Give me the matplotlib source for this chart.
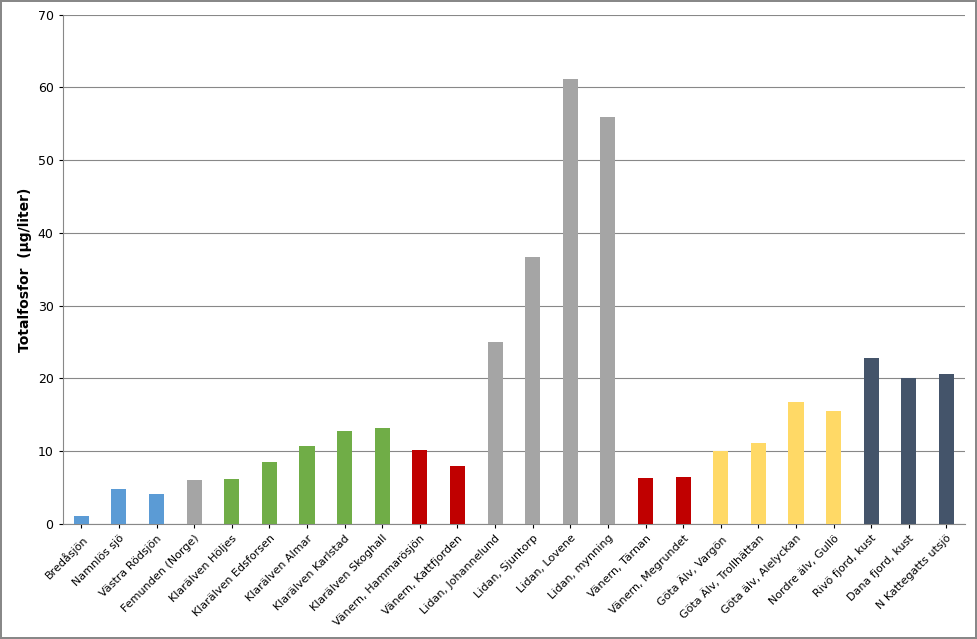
import matplotlib
matplotlib.use("Agg")
import matplotlib.pyplot as plt

labels = ["Bredåsjön", "Namnlös sjö", "Västra Rödsjön", "Femunden (Norge)", "Klarälven Höljes",
          "Klarälven Edsforsen", "Klarälven Almar", "Klarälven Karlstad", "Klarälven Skoghall",
          "Vänern, Hammarösjön", "Vänern, Kattfjorden", "Lidan, Johannelund", "Lidan, Sjuntorp",
          "Lidan, Lovene", "Lidan, mynning", "Vänern, Tärnan", "Vänern, Megrundet",
          "Göta Älv, Vargön", "Göta Älv, Trollhättan", "Göta älv, Alelyckan", "Nordre älv, Gullö",
          "Rivö fjord, kust", "Dana fjord, kust", "N Kattegatts utsjö"]
values = [1.1, 4.8, 4.1, 6.0, 6.2, 8.5, 10.7, 12.8, 13.2, 10.2, 8.0, 25.0, 36.7,
          61.2, 56.0, 6.3, 6.5, 10.0, 11.1, 16.8, 15.5, 22.8, 20.0, 20.6]
groups = ["b", "b", "b", "g", "n", "n", "n", "n", "n", "r", "r", "g", "g", "g", "g",
          "r", "r", "y", "y", "y", "y", "d", "d", "d"]
palette = {"b": "#5B9BD5", "g": "#A5A5A5", "n": "#70AD47", "r": "#C00000",
           "y": "#FFD966", "d": "#44546A"}

fig = plt.figure(figsize=(9.77, 6.39), dpi=100)
fig.patch.set_edgecolor("#888888")
fig.patch.set_linewidth(1.5)
ax = fig.add_axes([0.064, 0.18, 0.924, 0.797])
x = range(len(labels))
ax.bar(x, values, width=0.4, color=[palette[g] for g in groups], zorder=3)
ax.set_xlim(-0.5, len(labels) - 0.5)
ax.set_ylim(0, 70)
ax.set_yticks(range(0, 71, 10))
ax.yaxis.grid(True, color="#888888", linewidth=0.8, zorder=0)
ax.set_xticks(list(x))
ax.set_xticklabels(labels, rotation=45, ha="right", rotation_mode="anchor", fontsize=8)
ax.tick_params(axis="y", labelsize=9, length=3)
ax.tick_params(axis="x", length=3)
ax.set_ylabel("Totalfosfor  (µg/liter)", fontsize=10, fontweight="bold")
for s in ["top", "right"]:
    ax.spines[s].set_visible(False)
ax.spines["left"].set_color("#888888")
ax.spines["bottom"].set_color("#888888")
fig.savefig("out.png", dpi=100, edgecolor=fig.get_edgecolor())
